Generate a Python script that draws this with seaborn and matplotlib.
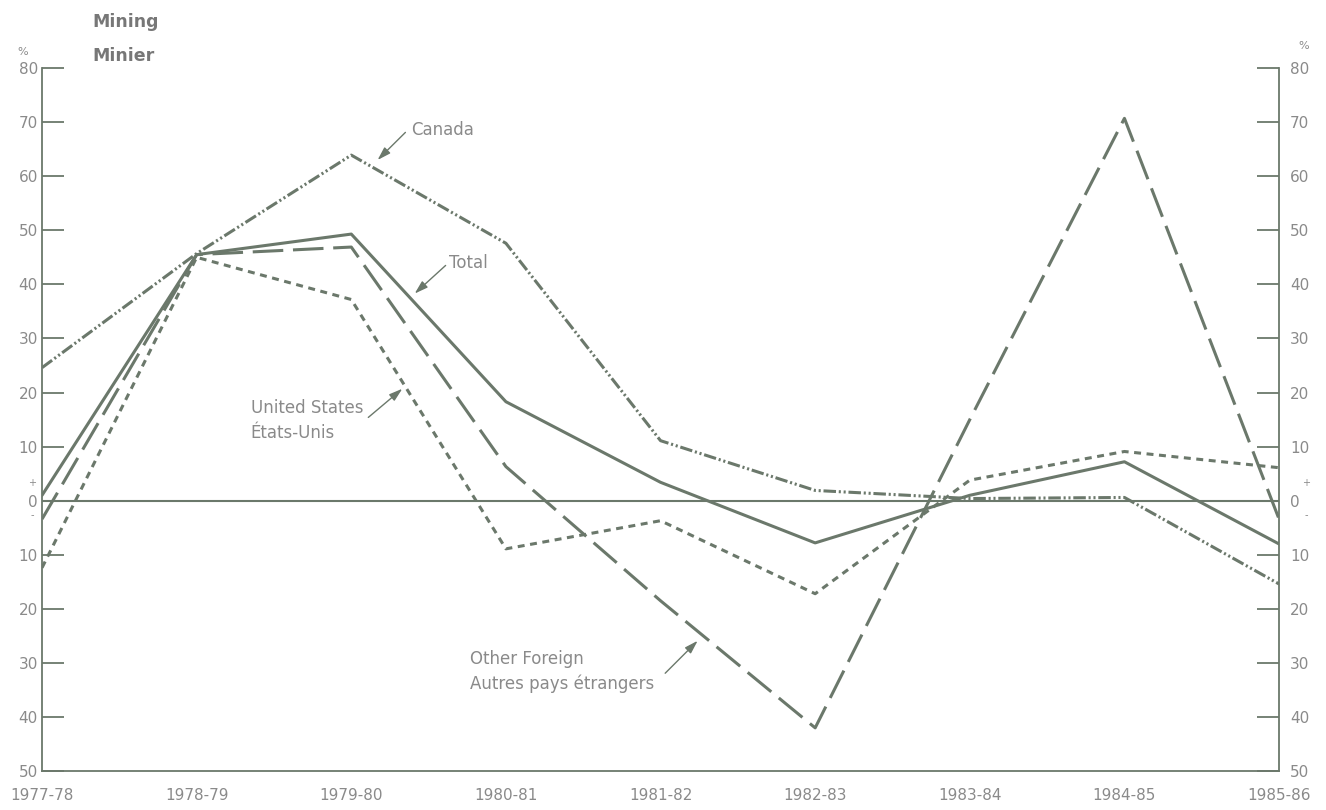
import matplotlib
matplotlib.use("Agg")
import matplotlib.pyplot as plt
import seaborn as sns
import pandas as pd

# fiscal years and % change per series
years = ["1977-78", "1978-79", "1979-80", "1980-81", "1981-82",
         "1982-83", "1983-84", "1984-85", "1985-86"]
total = [1, 45.5, 49.3, 18.3, 3.4, -7.8, 1.0, 7.2, -8]
canada = [24.6, 45.7, 63.9, 47.6, 11.1, 1.9, 0.4, 0.6, -15.4]
other_foreign = [-3.4, 45.5, 46.9, 6.3, -18.5, -42, 15, 70.7, -3.4]
united_states = [-12.4, 45, 37.2, -8.9, -3.7, -17.2, 3.8, 9.1, 6.1]

y_ticks = [80, 70, 60, 50, 40, 30, 20, 10, 0, -10, -20, -30, -40, -50]
y_labels = [str(abs(v)) for v in y_ticks]

line_col = "#6b786b"
text_col = "#8a8a8a"

series = {"Total": total, "Canada": canada,
          "Other Foreign": other_foreign, "United States": united_states}
rows = []
for name, vals in series.items():
    for i, v in enumerate(vals):
        rows.append({"x": i, "value": v, "series": name})
df = pd.DataFrame(rows)

sns.set_style("white")
plt.rcParams["font.family"] = ["DejaVu Sans"]
plt.rcParams["lines.scale_dashes"] = False

fig = plt.figure(figsize=(13.26, 8.10), dpi=100)
ax = fig.add_axes([0.0317, 0.048, 0.9329, 0.868])

dashes = {"Total": "",
          "Canada": (9, 2, 1.5, 2, 1.5, 2),
          "Other Foreign": (22, 7),
          "United States": (5, 4)}
sns.lineplot(data=df, x="x", y="value", style="series", dashes=dashes,
             color=line_col, linewidth=2.2, legend=False, ax=ax)

ax.axhline(0, color=line_col, lw=1.5, zorder=1)

ax.set_xlim(0, 8)
ax.set_ylim(-50, 80)
ax.set_xlabel("")
ax.set_ylabel("")
ax.set_xticks(range(len(years)))
ax.set_xticklabels(years)
ax.set_yticks(y_ticks)
ax.set_yticklabels(y_labels)

for s in ["top", "right"]:
    ax.spines[s].set_visible(False)
for s in ["left", "bottom"]:
    ax.spines[s].set_color(line_col)
    ax.spines[s].set_linewidth(1.3)

ax.tick_params(axis="x", direction="in", length=16, width=1.3, color=line_col,
               pad=12, labelsize=11, labelcolor=text_col)
ax.tick_params(axis="y", direction="in", length=16, width=1.3, color=line_col,
               pad=3, labelsize=11, labelcolor=text_col)

ax2 = ax.twinx()
ax2.set_ylim(-50, 80)
ax2.set_yticks(y_ticks)
ax2.set_yticklabels(y_labels)
for s in ["top", "left", "bottom"]:
    ax2.spines[s].set_visible(False)
ax2.spines["right"].set_color(line_col)
ax2.spines["right"].set_linewidth(1.3)
ax2.tick_params(axis="y", direction="in", length=16, width=1.3, color=line_col,
                pad=8, labelsize=11, labelcolor=text_col)

# annotations
fs = 12
arrow = dict(arrowstyle="-|>,head_length=0.8,head_width=0.25", color=line_col,
             lw=1.0, shrinkA=0, shrinkB=0)
ax.annotate("", xy=(2.17, 63), xytext=(2.35, 68.1), arrowprops=arrow)
ax.text(2.39, 68.5, "Canada", color=text_col, fontsize=fs, va="center")
ax.annotate("", xy=(2.41, 38.3), xytext=(2.61, 43.5), arrowprops=arrow)
ax.text(2.63, 44.0, "Total", color=text_col, fontsize=fs, va="center")
ax.annotate("", xy=(2.33, 20.7), xytext=(2.11, 15.4), arrowprops=arrow)
ax.text(1.35, 17.2, "United States", color=text_col, fontsize=fs, va="center")
ax.text(1.35, 12.6, "États-Unis", color=text_col, fontsize=fs, va="center")
ax.annotate("", xy=(4.24, -25.9), xytext=(4.03, -31.9), arrowprops=arrow)
ax.text(2.77, -29.3, "Other Foreign", color=text_col, fontsize=fs, va="center")
ax.text(2.77, -33.9, "Autres pays étrangers", color=text_col, fontsize=fs,
        va="center")

# title and side marks
fig.text(92 / 1326, 1 - 22 / 810, "Mining", color="#777777", fontsize=12.5,
         fontweight="bold", va="center")
fig.text(92 / 1326, 1 - 56 / 810, "Minier", color="#777777", fontsize=12.5,
         fontweight="bold", va="center")
fig.text(23 / 1326, 1 - 52 / 810, "%", color=text_col, fontsize=8, ha="center",
         va="center")
fig.text(1304 / 1326, 1 - 46 / 810, "%", color=text_col, fontsize=8,
         ha="center", va="center")
for xp in (32, 1306):
    fig.text(xp / 1326, 1 - 483 / 810, "+", color=text_col, fontsize=7,
             ha="center", va="center")
    fig.text(xp / 1326, 1 - 515 / 810, "-", color=text_col, fontsize=7,
             ha="center", va="center")

fig.savefig("out.png", dpi=100)
